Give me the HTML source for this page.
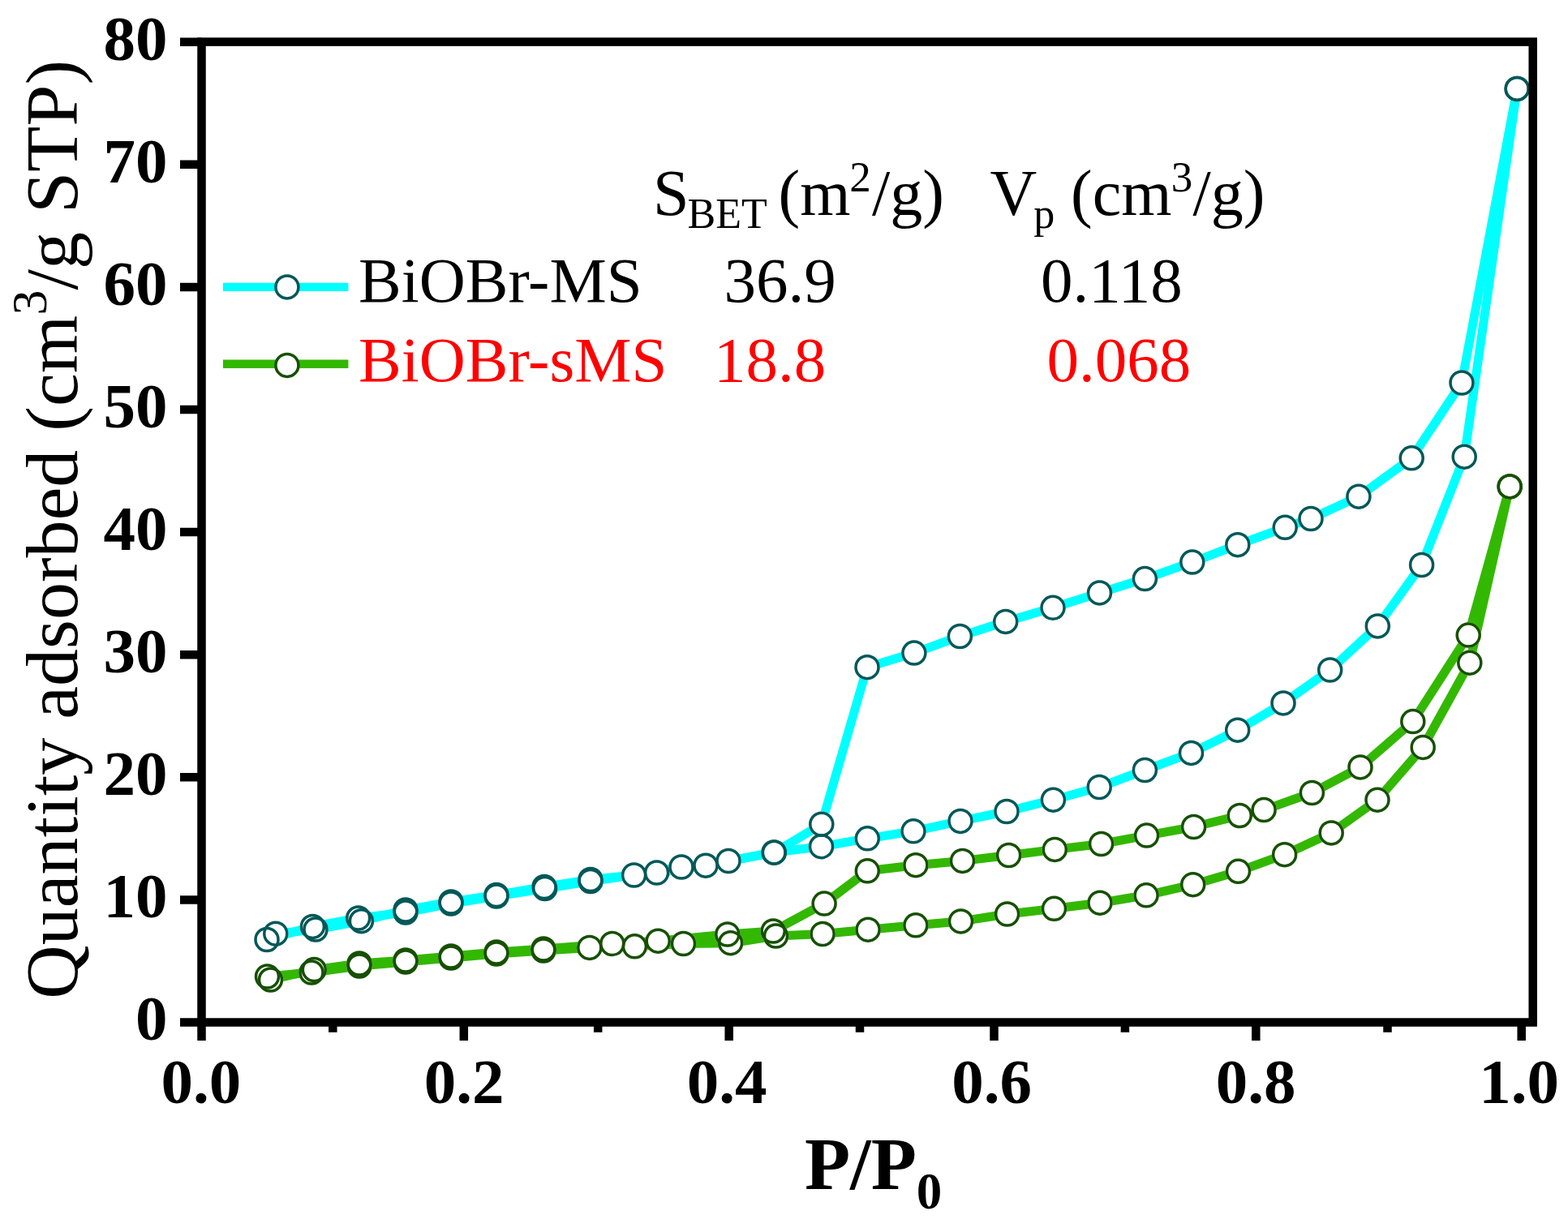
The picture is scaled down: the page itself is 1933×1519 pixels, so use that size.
<!DOCTYPE html>
<html><head><meta charset="utf-8"><title>BET isotherm</title>
<style>html,body{margin:0;padding:0;background:#fff;}svg{display:block;}</style></head>
<body>
<svg width="1933" height="1519" viewBox="0 0 1933 1519"><rect width="1933" height="1519" fill="#fff"/><polyline points="1870.2,109.4 1802.0,472.0 1740.2,564.8 1674.9,612.2 1616.0,639.5 1584.2,650.3 1525.8,671.7 1469.8,693.1 1411.4,713.6 1355.5,730.9 1298.0,749.3 1239.7,766.4 1183.4,784.5 1126.9,805.1 1069.0,822.7 1012.8,1016.2 954.4,1051.2 870.0,1067.2 809.6,1076.0 728.0,1084.5 671.0,1093.5 612.0,1103.5 556.0,1112.0 500.0,1122.0 445.4,1135.7 389.0,1146.0 339.8,1151.2" fill="none" stroke="#00FFFF" stroke-width="11" stroke-linejoin="round" stroke-linecap="butt"/><polyline points="329.0,1158.5 385.4,1142.4 441.7,1132.0 500.0,1125.0 556.0,1114.0 612.0,1105.0 671.7,1095.5 728.0,1086.5 781.6,1079.0 840.0,1069.0 898.0,1061.5 954.0,1051.0 1012.5,1043.7 1069.3,1033.8 1126.0,1024.8 1184.0,1012.4 1241.0,1000.5 1298.4,986.2 1355.2,970.5 1411.4,949.5 1468.5,928.4 1525.7,900.2 1582.0,866.9 1639.7,826.0 1698.3,771.9 1752.6,696.5 1805.2,563.2 1870.2,109.4" fill="none" stroke="#00FFFF" stroke-width="11" stroke-linejoin="round" stroke-linecap="butt"/><polyline points="1861.2,599.9 1810.2,783.1 1741.8,889.6 1677.0,945.9 1617.4,977.5 1558.1,998.6 1528.2,1005.5 1471.6,1019.5 1413.6,1030.1 1357.6,1040.5 1300.3,1047.4 1243.6,1054.5 1186.5,1061.4 1128.9,1066.7 1069.3,1073.8 1016.1,1114.1 953.2,1148.0 896.8,1152.0 811.2,1160.2 754.8,1163.5 670.0,1170.0 612.0,1174.0 556.0,1179.0 500.0,1184.0 443.0,1188.0 387.3,1195.6 333.5,1208.0" fill="none" stroke="#33B800" stroke-width="11" stroke-linejoin="round" stroke-linecap="butt"/><polyline points="329.5,1204.0 384.0,1199.0 443.0,1191.0 500.0,1186.0 556.0,1181.0 612.0,1176.0 670.0,1172.0 726.8,1168.4 782.4,1166.8 842.5,1163.5 900.6,1162.7 956.5,1154.0 1014.1,1151.5 1070.1,1146.2 1128.9,1140.8 1184.5,1135.9 1241.6,1127.0 1299.5,1120.3 1356.0,1113.2 1413.1,1103.8 1470.7,1090.7 1526.5,1074.3 1583.6,1053.7 1641.2,1026.9 1698.0,986.2 1754.2,921.4 1811.8,817.2 1861.2,599.9" fill="none" stroke="#33B800" stroke-width="11" stroke-linejoin="round" stroke-linecap="butt"/><g fill="#fff"><circle cx="1870.2" cy="109.4" r="15.75"/><circle cx="1802.0" cy="472.0" r="15.75"/><circle cx="1740.2" cy="564.8" r="15.75"/><circle cx="1674.9" cy="612.2" r="15.75"/><circle cx="1616.0" cy="639.5" r="15.75"/><circle cx="1584.2" cy="650.3" r="15.75"/><circle cx="1525.8" cy="671.7" r="15.75"/><circle cx="1469.8" cy="693.1" r="15.75"/><circle cx="1411.4" cy="713.6" r="15.75"/><circle cx="1355.5" cy="730.9" r="15.75"/><circle cx="1298.0" cy="749.3" r="15.75"/><circle cx="1239.7" cy="766.4" r="15.75"/><circle cx="1183.4" cy="784.5" r="15.75"/><circle cx="1126.9" cy="805.1" r="15.75"/><circle cx="1069.0" cy="822.7" r="15.75"/><circle cx="1012.8" cy="1016.2" r="15.75"/><circle cx="954.4" cy="1051.2" r="15.75"/><circle cx="870.0" cy="1067.2" r="15.75"/><circle cx="809.6" cy="1076.0" r="15.75"/><circle cx="728.0" cy="1084.5" r="15.75"/><circle cx="671.0" cy="1093.5" r="15.75"/><circle cx="612.0" cy="1103.5" r="15.75"/><circle cx="556.0" cy="1112.0" r="15.75"/><circle cx="500.0" cy="1122.0" r="15.75"/><circle cx="445.4" cy="1135.7" r="15.75"/><circle cx="389.0" cy="1146.0" r="15.75"/><circle cx="339.8" cy="1151.2" r="15.75"/><circle cx="329.0" cy="1158.5" r="15.75"/><circle cx="385.4" cy="1142.4" r="15.75"/><circle cx="441.7" cy="1132.0" r="15.75"/><circle cx="500.0" cy="1125.0" r="15.75"/><circle cx="556.0" cy="1114.0" r="15.75"/><circle cx="612.0" cy="1105.0" r="15.75"/><circle cx="671.7" cy="1095.5" r="15.75"/><circle cx="728.0" cy="1086.5" r="15.75"/><circle cx="781.6" cy="1079.0" r="15.75"/><circle cx="840.0" cy="1069.0" r="15.75"/><circle cx="898.0" cy="1061.5" r="15.75"/><circle cx="954.0" cy="1051.0" r="15.75"/><circle cx="1012.5" cy="1043.7" r="15.75"/><circle cx="1069.3" cy="1033.8" r="15.75"/><circle cx="1126.0" cy="1024.8" r="15.75"/><circle cx="1184.0" cy="1012.4" r="15.75"/><circle cx="1241.0" cy="1000.5" r="15.75"/><circle cx="1298.4" cy="986.2" r="15.75"/><circle cx="1355.2" cy="970.5" r="15.75"/><circle cx="1411.4" cy="949.5" r="15.75"/><circle cx="1468.5" cy="928.4" r="15.75"/><circle cx="1525.7" cy="900.2" r="15.75"/><circle cx="1582.0" cy="866.9" r="15.75"/><circle cx="1639.7" cy="826.0" r="15.75"/><circle cx="1698.3" cy="771.9" r="15.75"/><circle cx="1752.6" cy="696.5" r="15.75"/><circle cx="1805.2" cy="563.2" r="15.75"/><circle cx="1870.2" cy="109.4" r="15.75"/><circle cx="1861.2" cy="599.9" r="15.75"/><circle cx="1810.2" cy="783.1" r="15.75"/><circle cx="1741.8" cy="889.6" r="15.75"/><circle cx="1677.0" cy="945.9" r="15.75"/><circle cx="1617.4" cy="977.5" r="15.75"/><circle cx="1558.1" cy="998.6" r="15.75"/><circle cx="1528.2" cy="1005.5" r="15.75"/><circle cx="1471.6" cy="1019.5" r="15.75"/><circle cx="1413.6" cy="1030.1" r="15.75"/><circle cx="1357.6" cy="1040.5" r="15.75"/><circle cx="1300.3" cy="1047.4" r="15.75"/><circle cx="1243.6" cy="1054.5" r="15.75"/><circle cx="1186.5" cy="1061.4" r="15.75"/><circle cx="1128.9" cy="1066.7" r="15.75"/><circle cx="1069.3" cy="1073.8" r="15.75"/><circle cx="1016.1" cy="1114.1" r="15.75"/><circle cx="953.2" cy="1148.0" r="15.75"/><circle cx="896.8" cy="1152.0" r="15.75"/><circle cx="811.2" cy="1160.2" r="15.75"/><circle cx="754.8" cy="1163.5" r="15.75"/><circle cx="670.0" cy="1170.0" r="15.75"/><circle cx="612.0" cy="1174.0" r="15.75"/><circle cx="556.0" cy="1179.0" r="15.75"/><circle cx="500.0" cy="1184.0" r="15.75"/><circle cx="443.0" cy="1188.0" r="15.75"/><circle cx="387.3" cy="1195.6" r="15.75"/><circle cx="333.5" cy="1208.0" r="15.75"/><circle cx="329.5" cy="1204.0" r="15.75"/><circle cx="384.0" cy="1199.0" r="15.75"/><circle cx="443.0" cy="1191.0" r="15.75"/><circle cx="500.0" cy="1186.0" r="15.75"/><circle cx="556.0" cy="1181.0" r="15.75"/><circle cx="612.0" cy="1176.0" r="15.75"/><circle cx="670.0" cy="1172.0" r="15.75"/><circle cx="726.8" cy="1168.4" r="15.75"/><circle cx="782.4" cy="1166.8" r="15.75"/><circle cx="842.5" cy="1163.5" r="15.75"/><circle cx="900.6" cy="1162.7" r="15.75"/><circle cx="956.5" cy="1154.0" r="15.75"/><circle cx="1014.1" cy="1151.5" r="15.75"/><circle cx="1070.1" cy="1146.2" r="15.75"/><circle cx="1128.9" cy="1140.8" r="15.75"/><circle cx="1184.5" cy="1135.9" r="15.75"/><circle cx="1241.6" cy="1127.0" r="15.75"/><circle cx="1299.5" cy="1120.3" r="15.75"/><circle cx="1356.0" cy="1113.2" r="15.75"/><circle cx="1413.1" cy="1103.8" r="15.75"/><circle cx="1470.7" cy="1090.7" r="15.75"/><circle cx="1526.5" cy="1074.3" r="15.75"/><circle cx="1583.6" cy="1053.7" r="15.75"/><circle cx="1641.2" cy="1026.9" r="15.75"/><circle cx="1698.0" cy="986.2" r="15.75"/><circle cx="1754.2" cy="921.4" r="15.75"/><circle cx="1811.8" cy="817.2" r="15.75"/><circle cx="1861.2" cy="599.9" r="15.75"/></g><g fill="none" stroke="#005858" stroke-width="3.5"><circle cx="1870.2" cy="109.4" r="14.0"/><circle cx="1802.0" cy="472.0" r="14.0"/><circle cx="1740.2" cy="564.8" r="14.0"/><circle cx="1674.9" cy="612.2" r="14.0"/><circle cx="1616.0" cy="639.5" r="14.0"/><circle cx="1584.2" cy="650.3" r="14.0"/><circle cx="1525.8" cy="671.7" r="14.0"/><circle cx="1469.8" cy="693.1" r="14.0"/><circle cx="1411.4" cy="713.6" r="14.0"/><circle cx="1355.5" cy="730.9" r="14.0"/><circle cx="1298.0" cy="749.3" r="14.0"/><circle cx="1239.7" cy="766.4" r="14.0"/><circle cx="1183.4" cy="784.5" r="14.0"/><circle cx="1126.9" cy="805.1" r="14.0"/><circle cx="1069.0" cy="822.7" r="14.0"/><circle cx="1012.8" cy="1016.2" r="14.0"/><circle cx="954.4" cy="1051.2" r="14.0"/><circle cx="870.0" cy="1067.2" r="14.0"/><circle cx="809.6" cy="1076.0" r="14.0"/><circle cx="728.0" cy="1084.5" r="14.0"/><circle cx="671.0" cy="1093.5" r="14.0"/><circle cx="612.0" cy="1103.5" r="14.0"/><circle cx="556.0" cy="1112.0" r="14.0"/><circle cx="500.0" cy="1122.0" r="14.0"/><circle cx="445.4" cy="1135.7" r="14.0"/><circle cx="389.0" cy="1146.0" r="14.0"/><circle cx="339.8" cy="1151.2" r="14.0"/></g><g fill="none" stroke="#005858" stroke-width="3.5"><circle cx="329.0" cy="1158.5" r="14.0"/><circle cx="385.4" cy="1142.4" r="14.0"/><circle cx="441.7" cy="1132.0" r="14.0"/><circle cx="500.0" cy="1125.0" r="14.0"/><circle cx="556.0" cy="1114.0" r="14.0"/><circle cx="612.0" cy="1105.0" r="14.0"/><circle cx="671.7" cy="1095.5" r="14.0"/><circle cx="728.0" cy="1086.5" r="14.0"/><circle cx="781.6" cy="1079.0" r="14.0"/><circle cx="840.0" cy="1069.0" r="14.0"/><circle cx="898.0" cy="1061.5" r="14.0"/><circle cx="954.0" cy="1051.0" r="14.0"/><circle cx="1012.5" cy="1043.7" r="14.0"/><circle cx="1069.3" cy="1033.8" r="14.0"/><circle cx="1126.0" cy="1024.8" r="14.0"/><circle cx="1184.0" cy="1012.4" r="14.0"/><circle cx="1241.0" cy="1000.5" r="14.0"/><circle cx="1298.4" cy="986.2" r="14.0"/><circle cx="1355.2" cy="970.5" r="14.0"/><circle cx="1411.4" cy="949.5" r="14.0"/><circle cx="1468.5" cy="928.4" r="14.0"/><circle cx="1525.7" cy="900.2" r="14.0"/><circle cx="1582.0" cy="866.9" r="14.0"/><circle cx="1639.7" cy="826.0" r="14.0"/><circle cx="1698.3" cy="771.9" r="14.0"/><circle cx="1752.6" cy="696.5" r="14.0"/><circle cx="1805.2" cy="563.2" r="14.0"/><circle cx="1870.2" cy="109.4" r="14.0"/></g><g fill="none" stroke="#165000" stroke-width="3.5"><circle cx="1861.2" cy="599.9" r="14.0"/><circle cx="1810.2" cy="783.1" r="14.0"/><circle cx="1741.8" cy="889.6" r="14.0"/><circle cx="1677.0" cy="945.9" r="14.0"/><circle cx="1617.4" cy="977.5" r="14.0"/><circle cx="1558.1" cy="998.6" r="14.0"/><circle cx="1528.2" cy="1005.5" r="14.0"/><circle cx="1471.6" cy="1019.5" r="14.0"/><circle cx="1413.6" cy="1030.1" r="14.0"/><circle cx="1357.6" cy="1040.5" r="14.0"/><circle cx="1300.3" cy="1047.4" r="14.0"/><circle cx="1243.6" cy="1054.5" r="14.0"/><circle cx="1186.5" cy="1061.4" r="14.0"/><circle cx="1128.9" cy="1066.7" r="14.0"/><circle cx="1069.3" cy="1073.8" r="14.0"/><circle cx="1016.1" cy="1114.1" r="14.0"/><circle cx="953.2" cy="1148.0" r="14.0"/><circle cx="896.8" cy="1152.0" r="14.0"/><circle cx="811.2" cy="1160.2" r="14.0"/><circle cx="754.8" cy="1163.5" r="14.0"/><circle cx="670.0" cy="1170.0" r="14.0"/><circle cx="612.0" cy="1174.0" r="14.0"/><circle cx="556.0" cy="1179.0" r="14.0"/><circle cx="500.0" cy="1184.0" r="14.0"/><circle cx="443.0" cy="1188.0" r="14.0"/><circle cx="387.3" cy="1195.6" r="14.0"/><circle cx="333.5" cy="1208.0" r="14.0"/></g><g fill="none" stroke="#165000" stroke-width="3.5"><circle cx="329.5" cy="1204.0" r="14.0"/><circle cx="384.0" cy="1199.0" r="14.0"/><circle cx="443.0" cy="1191.0" r="14.0"/><circle cx="500.0" cy="1186.0" r="14.0"/><circle cx="556.0" cy="1181.0" r="14.0"/><circle cx="612.0" cy="1176.0" r="14.0"/><circle cx="670.0" cy="1172.0" r="14.0"/><circle cx="726.8" cy="1168.4" r="14.0"/><circle cx="782.4" cy="1166.8" r="14.0"/><circle cx="842.5" cy="1163.5" r="14.0"/><circle cx="900.6" cy="1162.7" r="14.0"/><circle cx="956.5" cy="1154.0" r="14.0"/><circle cx="1014.1" cy="1151.5" r="14.0"/><circle cx="1070.1" cy="1146.2" r="14.0"/><circle cx="1128.9" cy="1140.8" r="14.0"/><circle cx="1184.5" cy="1135.9" r="14.0"/><circle cx="1241.6" cy="1127.0" r="14.0"/><circle cx="1299.5" cy="1120.3" r="14.0"/><circle cx="1356.0" cy="1113.2" r="14.0"/><circle cx="1413.1" cy="1103.8" r="14.0"/><circle cx="1470.7" cy="1090.7" r="14.0"/><circle cx="1526.5" cy="1074.3" r="14.0"/><circle cx="1583.6" cy="1053.7" r="14.0"/><circle cx="1641.2" cy="1026.9" r="14.0"/><circle cx="1698.0" cy="986.2" r="14.0"/><circle cx="1754.2" cy="921.4" r="14.0"/><circle cx="1811.8" cy="817.2" r="14.0"/><circle cx="1861.2" cy="599.9" r="14.0"/></g><rect x="248.5" y="51.6" width="1641.2" height="1208.9" fill="none" stroke="#000" stroke-width="10.5"/><path d="M222,1260.5H248.5 M222,1109.4H248.5 M222,958.3H248.5 M222,807.2H248.5 M222,656.1H248.5 M222,505.0H248.5 M222,353.9H248.5 M222,202.8H248.5 M222,51.7H248.5 M248.5,1260.5V1283 M410.3,1260.5V1272.8 M571.8,1260.5V1283 M737.2,1260.5V1272.8 M898.7,1260.5V1283 M1060.0,1260.5V1272.8 M1225.5,1260.5V1283 M1386.9,1260.5V1272.8 M1548.3,1260.5V1283 M1710.5,1260.5V1272.8 M1875.7,1260.5V1283" stroke="#000" stroke-width="10.5" fill="none"/><g font-family="Liberation Serif, Times New Roman, serif" font-weight="bold" font-size="79" fill="#000"><text x="206.5" y="1282.3" text-anchor="end">0</text><text x="206.5" y="1131.2" text-anchor="end">10</text><text x="206.5" y="980.1" text-anchor="end">20</text><text x="206.5" y="829.0" text-anchor="end">30</text><text x="206.5" y="677.9" text-anchor="end">40</text><text x="206.5" y="526.8" text-anchor="end">50</text><text x="206.5" y="375.7" text-anchor="end">60</text><text x="206.5" y="224.6" text-anchor="end">70</text><text x="206.5" y="73.5" text-anchor="end">80</text><text x="247.8" y="1359.5" text-anchor="middle">0.0</text><text x="572.0" y="1359.5" text-anchor="middle">0.2</text><text x="896.0" y="1359.5" text-anchor="middle">0.4</text><text x="1222.7" y="1359.5" text-anchor="middle">0.6</text><text x="1548.2" y="1359.5" text-anchor="middle">0.8</text><text x="1872.6" y="1359.5" text-anchor="middle">1.0</text></g><text font-family="Liberation Serif, Times New Roman, serif" font-weight="bold" font-size="92" x="991.9" y="1466">P/P<tspan font-size="63" dy="24">0</tspan></text><text font-family="Liberation Serif, Times New Roman, serif" font-size="92" transform="translate(95,1231.7) rotate(-90)">Quantity adsorbed (cm<tspan font-size="62" dy="-38">3</tspan><tspan dy="38">/g STP)</tspan></text><g font-family="Liberation Serif, Times New Roman, serif" font-size="80" fill="#000"><text x="805.1" y="265">S</text><text x="847.5" y="281.4" font-size="52">BET</text><text x="959.5" y="265">(m</text><text x="1047.2" y="236.2" font-size="53">2</text><text x="1075" y="265">/g)</text><text x="1220.6" y="265">V</text><text x="1274.2" y="281.4" font-size="52">p</text><text x="1320" y="265">(cm</text><text x="1443.8" y="236.2" font-size="53">3</text><text x="1470.5" y="265">/g)</text></g><line x1="274.9" y1="353.9" x2="429.4" y2="353.9" stroke="#00FFFF" stroke-width="10.4"/><circle cx="353.9" cy="353.9" r="14.0" fill="#fff" stroke="#005858" stroke-width="3.5"/><line x1="274.9" y1="448.7" x2="429.4" y2="448.7" stroke="#33B800" stroke-width="10.4"/><circle cx="353.9" cy="450.4" r="14.0" fill="#fff" stroke="#165000" stroke-width="3.5"/><g font-family="Liberation Serif, Times New Roman, serif" font-size="79"><text x="442" y="372.4">BiOBr-MS</text><text x="892.5" y="372.4">36.9</text><text x="1282.9" y="372.4">0.118</text><g fill="#FF0000"><text x="442" y="470">BiOBr-sMS</text><text x="880.1" y="470">18.8</text><text x="1290.5" y="470">0.068</text></g></g></svg>
</body></html>
